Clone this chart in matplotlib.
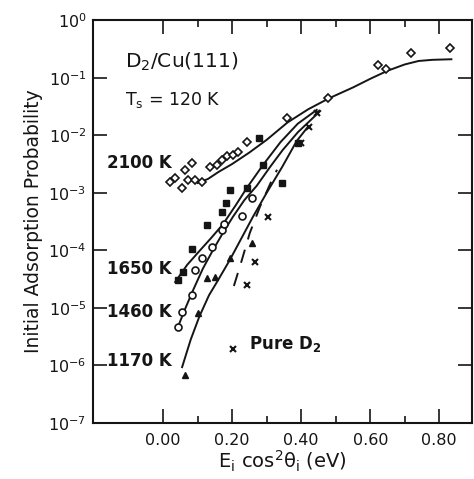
import numpy as np
import matplotlib
matplotlib.use("Agg")
import matplotlib.pyplot as plt
from matplotlib.ticker import FixedLocator, LogFormatterMathtext, NullLocator

plt.rcParams["font.family"] = ["DejaVu Sans"]
plt.rcParams["mathtext.fontset"] = "dejavusans"

INK = "#151515"

# fitted curves (x in eV, log10 of probability)
c2100_x = [0.10, 0.13, 0.16, 0.20, 0.25, 0.30, 0.36, 0.42, 0.48, 0.55, 0.60, 0.65, 0.70, 0.74, 0.78, 0.835]
c2100_l = [-2.83, -2.76, -2.64, -2.50, -2.30, -2.08, -1.78, -1.55, -1.36, -1.17, -1.02, -0.88, -0.77, -0.71, -0.69, -0.68]
c1650_x = [0.035, 0.07, 0.107, 0.14, 0.173, 0.21, 0.242, 0.289, 0.34, 0.39, 0.445]
c1650_l = [-4.55, -4.25, -4.00, -3.78, -3.55, -3.22, -2.92, -2.52, -2.12, -1.80, -1.56]
c1460_x = [0.043, 0.065, 0.087, 0.115, 0.144, 0.175, 0.202, 0.235, 0.271, 0.31, 0.346, 0.39, 0.455]
c1460_l = [-5.33, -5.00, -4.69, -4.32, -4.00, -3.68, -3.42, -3.13, -2.88, -2.55, -2.26, -1.95, -1.58]
c1170_x = [0.055, 0.08, 0.105, 0.133, 0.159, 0.193, 0.226, 0.26, 0.30, 0.345, 0.387, 0.42]
c1170_l = [-6.03, -5.55, -5.15, -4.78, -4.52, -4.17, -3.80, -3.42, -3.00, -2.55, -2.10, -1.85]
pure_x = [0.205, 0.228, 0.251, 0.280, 0.315, 0.33]
pure_l = [-4.62, -4.17, -3.70, -3.25, -2.78, -2.60]

# measured points
d2100_x = [0.020, 0.035, 0.055, 0.064, 0.084, 0.072, 0.092, 0.113, 0.136, 0.156, 0.170, 0.185,
           0.202, 0.216, 0.242, 0.360, 0.479, 0.623, 0.646, 0.718, 0.831]
d2100_l = [-2.81, -2.74, -2.92, -2.61, -2.48, -2.78, -2.78, -2.81, -2.55, -2.52, -2.43, -2.36,
           -2.34, -2.29, -2.12, -1.70, -1.35, -0.78, -0.85, -0.57, -0.49]
d1650_x = [0.043, 0.058, 0.084, 0.127, 0.170, 0.182, 0.193, 0.242, 0.289, 0.277, 0.39, 0.343]
d1650_l = [-4.52, -4.38, -3.98, -3.56, -3.34, -3.18, -2.95, -2.92, -2.52, -2.05, -2.14, -2.83]
d1460_x = [0.043, 0.055, 0.084, 0.092, 0.113, 0.141, 0.170, 0.176, 0.228, 0.257]
d1460_l = [-5.33, -5.07, -4.78, -4.34, -4.13, -3.94, -3.65, -3.54, -3.40, -3.09]
d1170_x = [0.063, 0.101, 0.127, 0.150, 0.193, 0.257]
d1170_l = [-6.17, -5.09, -4.48, -4.47, -4.13, -3.87]
dpure_x = [0.242, 0.266, 0.303, 0.40, 0.424, 0.447]
dpure_l = [-4.60, -4.20, -3.42, -2.14, -1.86, -1.62]

legend_x = [0.202]
legend_l = [-5.71]

x_ticks = [0.0, 0.2, 0.4, 0.6, 0.8]
x_labels = ["0.00", "0.20", "0.40", "0.60", "0.80"]
x_minor = [0.1, 0.3, 0.5, 0.7]
y_decades = [-7, -6, -5, -4, -3, -2, -1, 0]


def p(v):
    return 10.0 ** np.asarray(v)


fig = plt.figure(figsize=(4.74, 4.79), dpi=100)
ax = fig.add_axes([0.197, 0.117, 0.799, 0.841])
ax.set_yscale("log")

lw = 1.4
ax.plot(c2100_x, p(c2100_l), color=INK, lw=lw)
ax.plot(c1650_x, p(c1650_l), color=INK, lw=lw)
ax.plot(c1460_x, p(c1460_l), color=INK, lw=lw)
ax.plot(c1170_x, p(c1170_l), color=INK, lw=lw)
ax.plot(pure_x, p(pure_l), color=INK, lw=1.4, ls=(0, (7, 5.5)))

ax.plot(d2100_x, p(d2100_l), ls="none", marker="D", ms=4.5, mfc="white", mec=INK, mew=1.2)
ax.plot(d1650_x, p(d1650_l), ls="none", marker="s", ms=4, mfc=INK, mec=INK)
ax.plot(d1460_x, p(d1460_l), ls="none", marker="o", ms=5, mfc="white", mec=INK, mew=1.2)
ax.plot(d1170_x, p(d1170_l), ls="none", marker="^", ms=4.5, mfc=INK, mec=INK)
ax.plot(dpure_x, p(dpure_l), ls="none", marker="x", ms=5, mec=INK, mew=1.5)
ax.plot(legend_x, p(legend_l), ls="none", marker="x", ms=5, mec=INK, mew=1.5)

ax.set_xlim(-0.202, 0.895)
ax.set_ylim(1e-7, 1e0)

ax.xaxis.set_major_locator(FixedLocator(x_ticks))
ax.xaxis.set_minor_locator(FixedLocator(x_minor))
ax.set_xticklabels(x_labels)
ax.yaxis.set_major_locator(FixedLocator(p(y_decades)))
ax.yaxis.set_major_formatter(LogFormatterMathtext())
ax.yaxis.set_minor_locator(NullLocator())

ax.tick_params(which="both", direction="in", top=True, right=True, width=1.2, colors=INK,
               labelsize=11.5)
ax.tick_params(axis="x", pad=7)
ax.tick_params(axis="y", pad=5)
ax.tick_params(which="major", length=10)
ax.tick_params(which="minor", length=5)
for s in ax.spines.values():
    s.set_linewidth(1.5)
    s.set_color(INK)

ax.set_ylabel("Initial Adsorption Probability", fontsize=13.5, color=INK, labelpad=4)
ax.set_xlabel("E$_\\mathrm{i}$ cos$^2$θ$_\\mathrm{i}$ (eV)", fontsize=14, color=INK, labelpad=1)

ax.text(-0.11, p(-0.72), r"D$_2$/Cu(111)", fontsize=14.5, color=INK, va="center")
ax.text(-0.11, p(-1.38), r"T$_\mathrm{s}$ = 120 K", fontsize=12.5, color=INK, va="center")
ax.text(-0.162, p(-2.48), "2100 K", fontsize=12, weight="bold", color=INK, va="center")
ax.text(-0.162, p(-4.32), "1650 K", fontsize=12, weight="bold", color=INK, va="center")
ax.text(-0.162, p(-5.07), "1460 K", fontsize=12, weight="bold", color=INK, va="center")
ax.text(-0.162, p(-5.92), "1170 K", fontsize=12, weight="bold", color=INK, va="center")
ax.text(0.25, p(-5.62), r"Pure D$_\mathbf{2}$", fontsize=12, weight="bold", color=INK, va="center")

fig.savefig("out.png", dpi=100)
